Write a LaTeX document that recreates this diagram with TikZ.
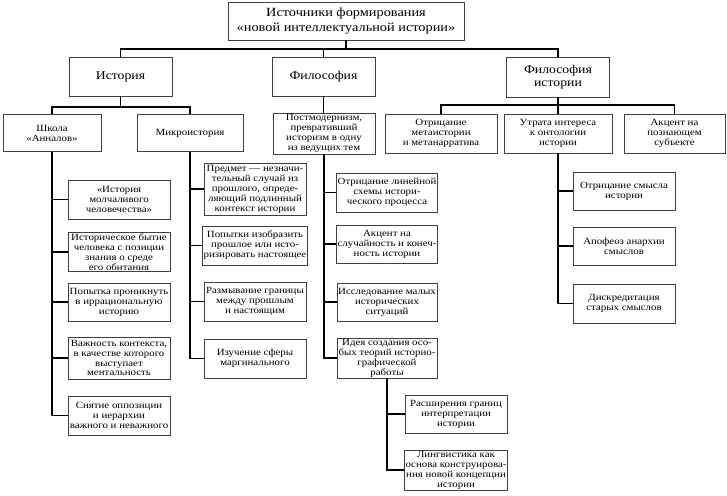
\documentclass[tikz,border=0pt]{standalone}
\usepackage{fontspec}
\setmainfont{Liberation Serif}[FakeStretch=1.15]
\newcommand\leaffont{\fontsize{9.5}{10}\selectfont}
\newcommand\headfont{\fontsize{12}{13.5}\selectfont}
\newcommand\titlefont{\fontsize{12.5}{15}\selectfont}
\tikzset{
  box/.style={draw=black!75, line width=0.8bp, align=center, inner sep=1bp, font=\leaffont},
  head/.style={box, font=\headfont, minimum width=103bp, minimum height=39bp},
  leaf/.style={box, minimum width=102bp, minimum height=39bp},
  conn/.style={line width=1.6bp}
}
\begin{document}
\begin{tikzpicture}[x=1bp,y=-1bp]
  \useasboundingbox (0,0) rectangle (727,496);
  % top
  \node[box, font=\titlefont, minimum width=236bp, minimum height=38bp] (title)
    at (346,21) {Источники формирования\\«новой интеллектуальной истории»};
  \node[head] (hist) at (120.5,76.5) {История};
  \node[head] (phil) at (323.5,76.5) {Философия};
  \node[head, minimum height=40bp] (phist) at (558,77) {Философия\\истории};
  % third row
  \node[box, minimum width=98bp, minimum height=37bp] (skola) at (52,133) {Школа\\«Анналов»};
  \node[box, minimum width=106bp, minimum height=37bp] (micro) at (190,133) {Микроистория};
  \node[box, minimum width=102bp, minimum height=41bp] (postm) at (324,133.5)
    {Постмодернизм,\\превративший\\историзм в одну\\из ведущих тем};
  \node[box, minimum width=112bp, minimum height=39bp] (otrmeta) at (441,133.5)
    {Отрицание\\метаистории\\и метанарратива};
  \node[box, minimum width=108bp, minimum height=39bp] (utrata) at (558,133.5)
    {Утрата интереса\\к онтологии\\истории};
  \node[box, minimum width=101bp, minimum height=39bp] (akcent) at (674.5,133.5)
    {Акцент на\\познающем\\субъекте};
  % Annales
  \node[leaf] (a1) at (119,199.5) {«История\\молчаливого\\человечества»};
  \node[leaf, minimum height=38bp] (a2) at (119,252) {Историческое бытие\\человека с позиции\\знания о среде\\его обитания};
  \node[leaf, minimum height=38bp] (a3) at (119,302) {Попытка проникнуть\\в иррациональную\\историю};
  \node[leaf, minimum height=42bp] (a4) at (119,358) {Важность контекста,\\в качестве которого\\выступает\\ментальность};
  \node[leaf] (a5) at (119,415.5) {Снятие оппозиции\\и иерархии\\важного и неважного};
  % microhistory
  \node[leaf, minimum height=52bp] (b1) at (255,189) {Предмет — незначи-\\тельный случай из\\прошлого, опреде-\\ляющий подлинный\\контекст истории};
  \node[leaf] (b2) at (255,245.5) {Попытки изобразить\\прошлое или исто-\\ризировать настоящее};
  \node[leaf] (b3) at (255,301.5) {Размывание границы\\между прошлым\\и настоящим};
  \node[leaf] (b4) at (255,358.5) {Изучение сферы\\маргинального};
  % postmodernism
  \node[leaf, minimum width=100bp] (c1) at (387,192.5) {Отрицание линейной\\схемы истори-\\ческого процесса};
  \node[leaf, minimum width=100bp, minimum height=38bp] (c2) at (387,244) {Акцент на\\случайность и конеч-\\ность истории};
  \node[leaf, minimum width=100bp, minimum height=38bp] (c3) at (387,302) {Исследование малых\\исторических\\ситуаций};
  \node[leaf, minimum width=100bp, minimum height=40bp] (c4) at (387,358) {Идея создания осо-\\бых теорий историо-\\графической\\работы};
  \node[leaf, minimum height=38bp] (d1) at (456,414) {Расширения границ\\интерпретации\\истории};
  \node[leaf, minimum height=40bp] (d2) at (456,470) {Лингвистика как\\основа конструирова-\\ния новой концепции\\истории};
  % loss of interest
  \node[leaf, minimum height=38bp] (e1) at (624,191) {Отрицание смысла\\истории};
  \node[leaf, minimum height=38bp] (e2) at (624,246) {Апофеоз анархии\\смыслов};
  \node[leaf] (e3) at (624,303.5) {Дискредитация\\старых смыслов};
  % connectors
  \draw[conn] (title.south) -- (title.south |- 0,49) -| (hist.north)
    (title.south |- 0,49) -| (phil.north)
    (title.south |- 0,49) -| (phist.north);
  \draw[conn] (hist.south) -- (hist.south |- 0,107) -| (skola.north)
    (hist.south |- 0,107) -| (micro.north);
  \draw[conn] (phil.south) -- (phil.south |- postm.north);
  \draw[conn] (phist.south) -- (utrata.north)
    (phist.south |- 0,105) -| (otrmeta.north)
    (phist.south |- 0,105) -| (akcent.north);
  \draw[conn] (skola.south) |- (a1.west) (skola.south) |- (a2.west)
    (skola.south) |- (a3.west) (skola.south) |- (a4.west) (skola.south) |- (a5.west);
  \draw[conn] (micro.south) |- (b1.west) (micro.south) |- (b2.west)
    (micro.south) |- (b3.west) (micro.south) |- (b4.west);
  \draw[conn] (postm.south) |- (c1.west) (postm.south) |- (c2.west)
    (postm.south) |- (c3.west) (postm.south) |- (c4.west);
  \draw[conn] (c4.south) |- (d1.west) (c4.south) |- (d2.west);
  \draw[conn] (utrata.south) |- (e1.west) (utrata.south) |- (e2.west)
    (utrata.south) |- (e3.west);
\end{tikzpicture}
\end{document}
